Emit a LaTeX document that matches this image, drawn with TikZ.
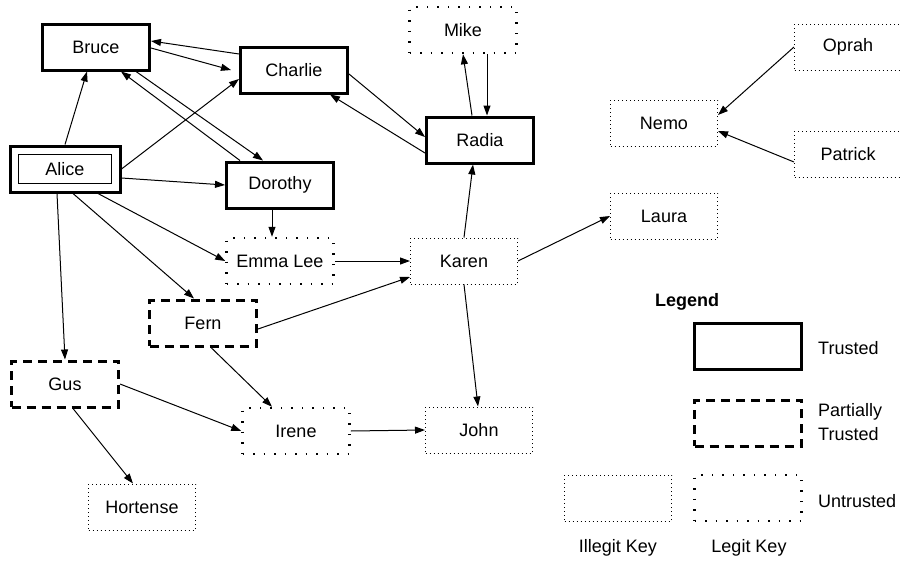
\documentclass[tikz,border=0pt]{standalone}
\usepackage{fontspec}
\setmainfont{Liberation Sans}
\usetikzlibrary{arrows.meta}
\begin{document}
\begin{tikzpicture}[x=1pt, y=-1pt, font=\fontsize{18}{24}\selectfont,
    >={Triangle[length=10pt, width=7pt]},
    box/.style={rectangle, minimum width=107pt, minimum height=46pt, inner sep=0pt},
    trusted/.style={box, draw, line width=3pt},
    partial/.style={box, draw, line width=3pt, dash pattern=on 9pt off 6pt},
    legit/.style={box, draw, line width=2.5pt, dash pattern=on 1.5pt off 9pt},
    illegit/.style={box, draw, line width=1pt, dash pattern=on 1pt off 3pt},
    link/.style={->, line width=1pt}]
  \useasboundingbox (0,0) rectangle (900,560);
  \node[trusted, minimum width=110pt] (alice) at (65,169) {};
  \node[draw, line width=1pt, minimum width=93pt, minimum height=29pt, inner sep=0pt] (alicename) at (alice) {Alice};
  \node[trusted] (bruce) at (96,47) {Bruce};
  \node[trusted] (charlie) at (294,70) {Charlie};
  \node[trusted] (dorothy) at (280,185) {Dorothy};
  \node[legit] (mike) at (463,30) {Mike};
  \node[trusted] (radia) at (480,140) {Radia};
  \node[legit] (emma) at (280,261) {Emma Lee};
  \node[illegit] (karen) at (464,261) {Karen};
  \node[illegit] (oprah) at (848,47) {Oprah};
  \node[illegit] (nemo) at (664,123) {Nemo};
  \node[illegit] (patrick) at (848,154) {Patrick};
  \node[illegit] (laura) at (664,216) {Laura};
  \node[partial] (fern) at (203,323) {Fern};
  \node[partial] (gus) at (65,384) {Gus};
  \node[legit] (irene) at (296,431) {Irene};
  \node[illegit] (john) at (479,430) {John};
  \node[illegit] (hortense) at (142,507) {Hortense};

  \draw[link] (alice.north) -- ([xshift=-9pt]bruce.south);
  \draw[link] (alice.east) -- ([yshift=-9pt]charlie.west);
  \draw[link] ([yshift=-9pt]alice.east) -- (dorothy.west);
  \draw[link] ([xshift=33pt]alice.south) -- (emma.west);
  \draw[link] ([xshift=8pt]alice.south) -- ([xshift=-9pt]fern.north);
  \draw[link] ([xshift=-8pt]alice.south) -- (gus.north);
  \draw[link] ([yshift=-1pt]bruce.east) -- ([xshift=-8pt]charlie.west);
  \draw[link] ([yshift=16pt]charlie.west) -- ([yshift=6pt]bruce.east);
  \draw[link] ([xshift=40pt]bruce.south) -- ([xshift=-17pt]dorothy.north);
  \draw[link] ([xshift=-40pt]dorothy.north) -- ([xshift=25pt]bruce.south);
  \draw[link] ([yshift=-4pt]charlie.east) -- ([yshift=3pt]radia.west);
  \draw[link] ([yshift=-13pt]radia.west) -- ([xshift=36pt]charlie.south);
  \draw[link] ([xshift=-8pt]radia.north) -- (mike.south);
  \draw[link] ([xshift=24pt]mike.south) -- ([xshift=7pt]radia.north);
  \draw[link] ([xshift=-8pt]dorothy.south) -- ([xshift=-8pt]emma.north);
  \draw[link] (emma.east) -- (karen.west);
  \draw[link] (karen.north) -- ([xshift=-7pt]radia.south);
  \draw[link] (karen.east) -- (laura.west);
  \draw[link] (karen.south) -- ([xshift=-1pt]john.north);
  \draw[link] ([yshift=-6pt]fern.east) -- ([yshift=-16pt]karen.west);
  \draw[link] ([xshift=8pt]fern.south) -- ([xshift=-24pt]irene.north);
  \draw[link] (gus.east) -- (irene.west);
  \draw[link] ([xshift=8pt]gus.south) -- ([xshift=-9pt]hortense.north);
  \draw[link] (irene.east) -- (john.west);
  \draw[link] (oprah.west) -- ([yshift=8pt]nemo.east);
  \draw[link] ([yshift=-8pt]patrick.west) -- ([yshift=-8pt]nemo.east);

  % legend
  \node[font=\bfseries\fontsize{18}{24}\selectfont] (legend) at (687,302) {Legend};
  \node[trusted] (keytrusted) at (748,346) {};
  \node[partial] (keypartial) at (748,423) {};
  \node[legit] (keylegit) at (748,498) {};
  \node[illegit] (keyillegit) at (618,498) {};
  \node[anchor=west, inner sep=0pt] (trustedtext) at (818,348) {Trusted};
  \node[anchor=west, inner sep=0pt, align=left] (partialtext) at (818,422) {Partially\\Trusted};
  \node[anchor=west, inner sep=0pt] (untrustedtext) at (818,501) {Untrusted};
  \node (illegittext) at (618,548) {Illegit Key};
  \node (legittext) at (749,548) {Legit Key};
\end{tikzpicture}
\end{document}
